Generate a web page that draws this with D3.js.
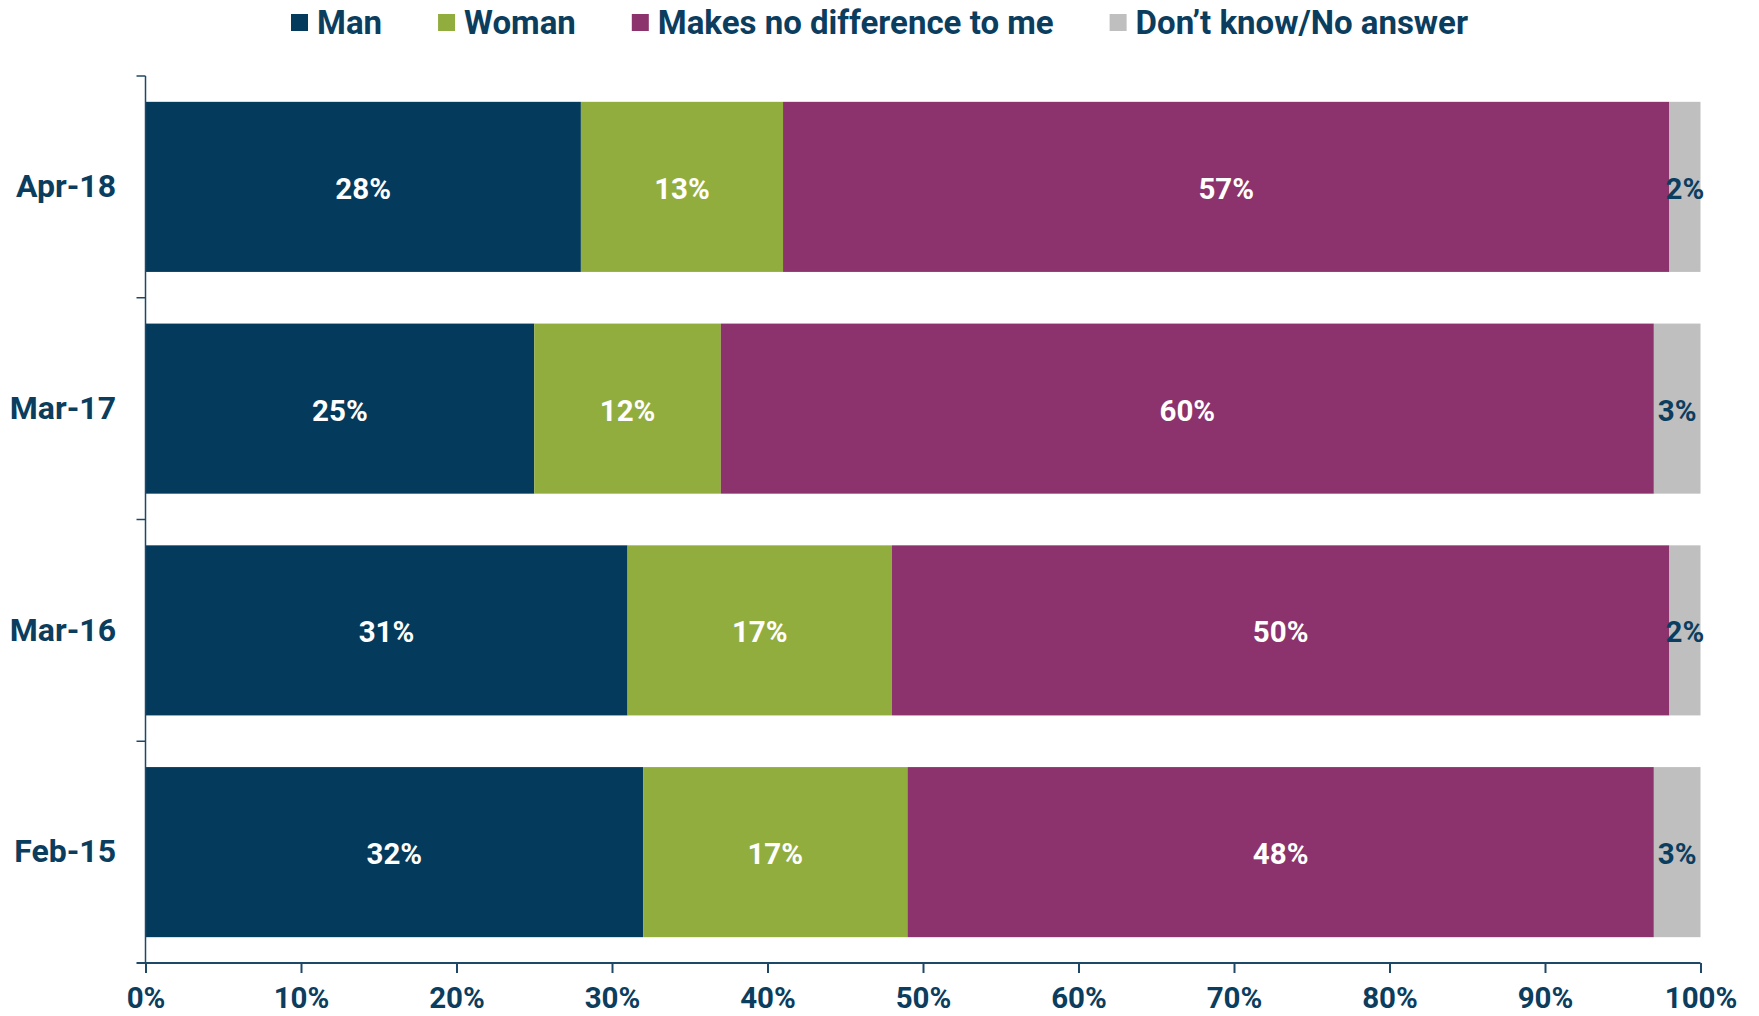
<!DOCTYPE html>
<html>
<head>
<meta charset="utf-8">
<script src="https://cdn.jsdelivr.net/npm/d3@7"></script>
<style>
  html, body { margin: 0; padding: 0; background: #fff; }
  svg { display: block; font-family: Roboto, "Open Sans", sans-serif; font-weight: bold; }
</style>
</head>
<body>
<svg id="chart" width="1759" height="1016"></svg>
<script>
// ---- data ----
const categories = ["Apr-18", "Mar-17", "Mar-16", "Feb-15"];
const seriesNames = ["Man", "Woman", "Makes no difference to me", "Don\u2019t know/No answer"];
const manValues = [28, 25, 31, 32];
const womanValues = [13, 12, 17, 17];
const noDiffValues = [57, 60, 50, 48];
const dontKnowValues = [2, 3, 2, 3];
const xTickValues = [0, 10, 20, 30, 40, 50, 60, 70, 80, 90, 100];

// ---- styles ----
const colors = ["#043A5B", "#91AD3E", "#8C326C", "#BFBFBF"];
const labelColors = ["#ffffff", "#ffffff", "#ffffff", "#0B3D5E"];
const textColor = "#0B3D5E";
const axisColor = "#1E4868";

const W = 1759, H = 1016;
const margin = { left: 145.5, right: 58.5, top: 76, bottom: 53 };

const svg = d3.select("#chart");

const seriesValues = [manValues, womanValues, noDiffValues, dontKnowValues];
const rows = categories.map((c, i) => {
  const r = { cat: c };
  seriesNames.forEach((s, j) => r[s] = seriesValues[j][i]);
  return r;
});
const stacked = d3.stack().keys(seriesNames)(rows);

const x = d3.scaleLinear().domain([0, 100]).range([margin.left, W - margin.right]);
const y = d3.scaleBand().domain(categories)
  .range([margin.top, H - margin.bottom])
  .paddingInner(0.233).paddingOuter(0.1165);

// bars
const layers = svg.append("g").selectAll("g").data(stacked).join("g")
  .attr("fill", (d, i) => colors[i]);
layers.selectAll("rect").data(d => d).join("rect")
  .attr("x", d => x(d[0]))
  .attr("y", d => y(d.data.cat))
  .attr("width", d => x(d[1]) - x(d[0]))
  .attr("height", y.bandwidth());

// bar labels
const lab = svg.append("g").selectAll("g").data(stacked).join("g")
  .attr("fill", (d, i) => labelColors[i]);
lab.selectAll("text").data(d => d.map(v => ({ v, key: d.key }))).join("text")
  .attr("x", d => (x(d.v[0]) + x(d.v[1])) / 2)
  .attr("y", d => y(d.v.data.cat) + y.bandwidth() / 2 + 2)
  .attr("text-anchor", "middle")
  .attr("dominant-baseline", "central")
  .style("font-size", "29.5px")
  .text(d => (d.v[1] - d.v[0]) + "%");

// x axis
const xAxis = d3.axisBottom(x).tickValues(xTickValues).tickFormat(d => d + "%")
  .tickSize(10).tickPadding(14).tickSizeOuter(0);
const gx = svg.append("g").attr("transform", `translate(0,${H - margin.bottom})`).call(xAxis);
gx.select(".domain").attr("stroke", axisColor).attr("stroke-width", 2)
  .attr("d", `M${margin.left - 9},0H${W - margin.right}`);
gx.selectAll(".tick line").attr("stroke", axisColor).attr("stroke-width", 2);
gx.selectAll(".tick text").attr("fill", textColor)
  .style("font-size", "29.5px").style("font-family", "Roboto, sans-serif").style("font-weight", "bold");

// y axis
const yAxis = d3.axisLeft(y).tickSize(0).tickPadding(29.5);
const gy = svg.append("g").attr("transform", `translate(${margin.left},0)`).call(yAxis);
gy.select(".domain").attr("stroke", axisColor).attr("stroke-width", 1.5)
  .attr("d", `M0,${margin.top}V${H - margin.bottom}`);
gy.selectAll(".tick text").attr("fill", textColor)
  .style("font-size", "32px").style("font-family", "Roboto, sans-serif").style("font-weight", "bold");
// boundary ticks on the category axis
const boundaries = categories.map(c => y(c) - y.step() * y.paddingInner() / 2)
  .map((b, i) => i === 0 ? margin.top : b);
gy.selectAll(".btick").data(boundaries).join("line").attr("class", "btick")
  .attr("x1", -9).attr("x2", 0).attr("y1", d => d).attr("y2", d => d)
  .attr("stroke", axisColor).attr("stroke-width", 1.5);

// legend
const legend = svg.append("g");
const items = legend.selectAll("g").data(seriesNames).join("g");
items.append("rect").attr("width", 17).attr("height", 17).attr("y", 14)
  .attr("fill", (d, i) => colors[i]);
items.append("text").attr("x", 26).attr("y", 22.5)
  .attr("dominant-baseline", "central")
  .attr("fill", textColor).style("font-size", "33px")
  .text(d => d);
let cx = 0;
const gap = 56;
items.each(function () {
  const g = d3.select(this);
  const w = g.select("text").node().getComputedTextLength() + 26;
  g.attr("transform", `translate(${cx},0)`);
  cx += w + gap;
});
const total = cx - gap;
legend.attr("transform", `translate(${W / 2 - total / 2},0)`);
</script>
</body>
</html>
